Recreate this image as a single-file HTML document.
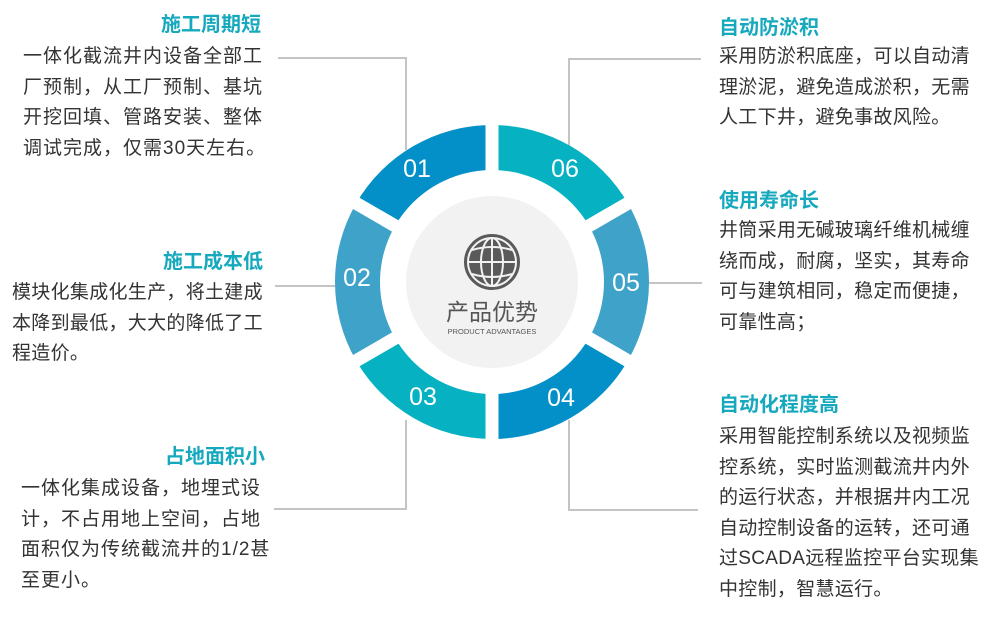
<!DOCTYPE html>
<html><head><meta charset="utf-8"><style>
html,body{margin:0;padding:0;background:#fff;}
body{width:999px;height:630px;position:relative;overflow:hidden;font-family:"Liberation Sans","Noto Sans CJK SC",sans-serif;}
.t{position:absolute;font-size:20px;font-weight:bold;color:#16a9be;line-height:24px;white-space:nowrap;}
.b{position:absolute;font-size:19px;color:#333;line-height:30.5px;letter-spacing:0.3px;white-space:nowrap;}
</style></head><body>
<svg width="999" height="630" style="position:absolute;left:0;top:0">
<g stroke="#c4c4c4" stroke-width="2" fill="none">
<polyline points="278,58 406,58 406,150"/>
<line x1="275" y1="286" x2="336" y2="286"/>
<polyline points="274,509 406,509 406,420"/>
<polyline points="701,59 569,59 569,150"/>
<line x1="648" y1="283" x2="702" y2="283"/>
<polyline points="698,510 569,510 569,420"/>
</g>
<path d="M492,125 A157,157 0 0 1 627.96,203.5 L588.99,226 A112,112 0 0 0 492,170 Z" fill="#06b2c2"/>
<path d="M627.96,203.5 A157,157 0 0 1 627.96,360.5 L588.99,338 A112,112 0 0 0 588.99,226 Z" fill="#3fa2c8"/>
<path d="M627.96,360.5 A157,157 0 0 1 492,439 L492,394 A112,112 0 0 0 588.99,338 Z" fill="#0390c9"/>
<path d="M492,439 A157,157 0 0 1 356.04,360.5 L395.01,338 A112,112 0 0 0 492,394 Z" fill="#06b2c2"/>
<path d="M356.04,360.5 A157,157 0 0 1 356.04,203.5 L395.01,226 A112,112 0 0 0 395.01,338 Z" fill="#3fa2c8"/>
<path d="M356.04,203.5 A157,157 0 0 1 492,125 L492,170 A112,112 0 0 0 395.01,226 Z" fill="#0390c9"/>
<g stroke="#fff" stroke-width="13">
<line x1="492" y1="282" x2="492" y2="115"/>
<line x1="492" y1="282" x2="492" y2="449"/>
<line x1="492" y1="282" x2="637" y2="198"/>
<line x1="492" y1="282" x2="637" y2="366"/>
<line x1="492" y1="282" x2="347" y2="198"/>
<line x1="492" y1="282" x2="347" y2="366"/>
</g>
<circle cx="492" cy="282" r="86" fill="#f2f2f2"/>
<g fill="#fff" font-family="Liberation Sans,sans-serif" font-size="25" text-anchor="middle">
<text x="417" y="177">01</text>
<text x="565" y="177">06</text>
<text x="357" y="286">02</text>
<text x="626" y="291">05</text>
<text x="423" y="405">03</text>
<text x="561" y="406">04</text>
</g>
<g>
<circle cx="492" cy="262" r="27" fill="#5a5a5a"/>
<g stroke="#f2f2f2" stroke-width="2" fill="none">
<circle cx="492" cy="262" r="24"/>
<ellipse cx="492" cy="262" rx="11" ry="24"/>
<line x1="492" y1="238" x2="492" y2="286"/>
<line x1="468" y1="262" x2="516" y2="262"/>
<path d="M472,250 Q492,244 512,250"/>
<path d="M472,274 Q492,280 512,274"/>
</g>
<circle cx="492" cy="262" r="27" fill="none" stroke="#5a5a5a" stroke-width="2"/>
</g>
<text x="492" y="320" text-anchor="middle" font-size="23" fill="#555" font-family="Liberation Sans,Noto Sans CJK SC,sans-serif">产品优势</text>
<text x="492" y="334" text-anchor="middle" font-size="7.5" fill="#555" font-family="Liberation Sans,sans-serif">PRODUCT ADVANTAGES</text>
</svg>

<div class="t" style="right:738px;top:13px;">施工周期短</div>
<div class="b" style="left:23px;top:42px;letter-spacing:1px;">一体化截流井内设备全部工<br>厂预制，从工厂预制、基坑<br>开挖回填、管路安装、整体<br>调试完成，仅需30天左右。</div>

<div class="t" style="right:736px;top:250px;">施工成本低</div>
<div class="b" style="left:12px;top:278px;">模块化集成化生产，将土建成<br>本降到最低，大大的降低了工<br>程造价。</div>

<div class="t" style="right:734px;top:445px;">占地面积小</div>
<div class="b" style="left:21px;top:474px;letter-spacing:1px;">一体化集成设备，地埋式设<br>计，不占用地上空间，占地<br>面积仅为传统截流井的1/2甚<br>至更小。</div>

<div class="t" style="left:719px;top:16px;">自动防淤积</div>
<div class="b" style="left:719px;top:42px;">采用防淤积底座，可以自动清<br>理淤泥，避免造成淤积，无需<br>人工下井，避免事故风险。</div>

<div class="t" style="left:719px;top:189px;">使用寿命长</div>
<div class="b" style="left:719px;top:216px;">井筒采用无碱玻璃纤维机械缠<br>绕而成，耐腐，坚实，其寿命<br>可与建筑相同，稳定而便捷，<br>可靠性高；</div>

<div class="t" style="left:719px;top:393px;">自动化程度高</div>
<div class="b" style="left:719px;top:422px;">采用智能控制系统以及视频监<br>控系统，实时监测截流井内外<br>的运行状态，并根据井内工况<br>自动控制设备的运转，还可通<br>过SCADA远程监控平台实现集<br>中控制，智慧运行。</div>
</body></html>
